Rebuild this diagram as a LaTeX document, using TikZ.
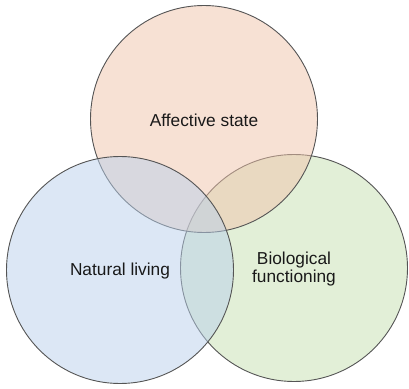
\documentclass[tikz,border=0pt]{standalone}
\usepackage{fontspec}
\setmainfont{Liberation Sans}
\definecolor{peach}{RGB}{240,195,170}
\definecolor{skyb}{RGB}{185,208,235}
\definecolor{leaf}{RGB}{198,224,176}
\definecolor{edge}{RGB}{85,85,85}
\tikzset{
  venn/.style={circle, draw=edge, line width=0.9pt, fill opacity=0.5, draw opacity=1, minimum size=227pt, inner sep=0pt},
  lbl/.style={font=\fontsize{17.3}{19}\selectfont, text=black!90, align=center}
}
\begin{document}
\begin{tikzpicture}[x=1pt,y=-1pt]
\useasboundingbox (0,0) rectangle (409,388);
\node[venn, fill=leaf] (right) at (294,268) {};
\node[venn, fill=peach] (top) at (204,119) {};
\node[venn, fill=skyb] (left) at (120,270) {};
\node[lbl] (ta) at (204,120) {Affective state};
\node[lbl] (la) at (120,271) {Natural living};
\node[lbl, font=\fontsize{17.3}{18}\selectfont] (ra) at (294,269) {Biological\\functioning};
\end{tikzpicture}
\end{document}
